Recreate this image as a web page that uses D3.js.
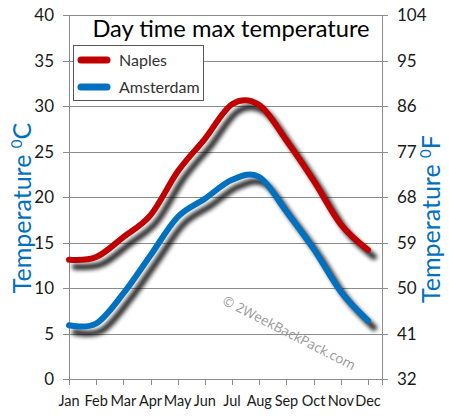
<!DOCTYPE html>
<html><head><meta charset="utf-8">
<script src="https://cdn.jsdelivr.net/npm/d3@7"></script>
<style>body{margin:0;background:#fff;} svg{display:block;}</style>
</head><body>
<svg id="c" width="449" height="420"></svg>
<script>
const months = ["Jan","Feb","Mar","Apr","May","Jun","Jul","Aug","Sep","Oct","Nov","Dec"];
const naples = [13.1, 13.4, 15.6, 18.0, 22.8, 26.4, 30.2, 30.1, 26.2, 21.8, 17.0, 14.2];
const amsterdam = [5.9, 6.1, 9.4, 13.6, 17.8, 19.8, 21.9, 22.2, 18.4, 14.3, 9.6, 6.4];
const celsiusTicks = [0, 5, 10, 15, 20, 25, 30, 35, 40];
const fahrenheitTicks = ["32", "41", "50", "59", "68", "77", "86", "95", "104"];
const seriesNames = ["Naples", "Amsterdam"];
const seriesColors = ["#c00000", "#0070c0"];

const font = "Lato, 'Open Sans', sans-serif";
const svg = d3.select("#c");
const pL = 69, pR = 382, pT = 15, pB = 379;

const x = d3.scalePoint().domain(months).range([69, 368]);
const y = d3.scaleLinear().domain([0, 40]).range([pB, pT]);

const defs = svg.append("defs");
const f = defs.append("filter").attr("id", "sh").attr("x", "-10%").attr("y", "-10%").attr("width", "130%").attr("height", "130%");
f.append("feGaussianBlur").attr("in", "SourceAlpha").attr("stdDeviation", 2.2).attr("result", "b");
f.append("feOffset").attr("in", "b").attr("dx", 6).attr("dy", 7).attr("result", "o");
f.append("feComponentTransfer").attr("in", "o").append("feFuncA").attr("type", "linear").attr("slope", 0.85);

// gridlines
svg.append("g").selectAll("line").data(celsiusTicks).join("line")
  .attr("x1", pL - 6).attr("x2", pR + 6)
  .attr("y1", d => Math.round(y(d)) + 0.5).attr("y2", d => Math.round(y(d)) + 0.5)
  .attr("stroke", "#8c8c8c").attr("stroke-width", 1);

// vertical axis lines
svg.append("line").attr("x1", pL + 0.5).attr("x2", pL + 0.5).attr("y1", pT).attr("y2", pB + 6).attr("stroke", "#8c8c8c");
svg.append("line").attr("x1", pR + 0.5).attr("x2", pR + 0.5).attr("y1", pT).attr("y2", pB + 6).attr("stroke", "#8c8c8c");

// x ticks
svg.append("g").selectAll("line").data(months).join("line")
  .attr("x1", d => Math.round(x(d)) + 0.5).attr("x2", d => Math.round(x(d)) + 0.5)
  .attr("y1", pB).attr("y2", pB + 6)
  .attr("stroke", "#8c8c8c");

// left tick labels
svg.append("g").selectAll("text").data(celsiusTicks).join("text")
  .attr("x", 54).attr("y", d => y(d) + 6)
  .attr("text-anchor", "end").attr("font-family", font).attr("font-size", 17)
  .attr("fill", "#1a1a1a").text(d => d);

// right tick labels
svg.append("g").selectAll("text").data(fahrenheitTicks).join("text")
  .attr("x", 397).attr("y", (d, i) => y(celsiusTicks[i]) + 6)
  .attr("text-anchor", "start").attr("font-family", font).attr("font-size", 17)
  .attr("fill", "#1a1a1a").text(d => d);

// x labels
svg.append("g").selectAll("text").data(months).join("text")
  .attr("x", d => x(d)).attr("y", 406)
  .attr("text-anchor", "middle").attr("font-family", font).attr("font-size", 14.5)
  .attr("fill", "#1a1a1a").text(d => d);

// watermark
svg.append("text").attr("transform", "translate(287,337) rotate(27)")
  .attr("text-anchor", "middle").attr("font-family", "'Open Sans', sans-serif").attr("font-size", 13.5)
  .attr("fill", "#999").text("© 2WeekBackPack.com");

// lines
const line = d3.line().x((d, i) => x(months[i])).y(d => y(d)).curve(d3.curveCardinal.tension(0));
const series = [naples, amsterdam];
series.forEach((s, k) => {
  svg.append("path").datum(s).attr("d", line).attr("fill", "none")
    .attr("stroke", "#000").attr("stroke-width", 6).attr("stroke-linecap", "round")
    .attr("filter", "url(#sh)");
  svg.append("path").datum(s).attr("d", line).attr("fill", "none")
    .attr("stroke", seriesColors[k]).attr("stroke-width", 6).attr("stroke-linecap", "round");
});

// title
svg.append("text").attr("x", 231).attr("y", 37).attr("text-anchor", "middle")
  .attr("font-family", font).attr("font-size", 23.7).attr("fill", "#000")
  .text("Day time max temperature");

// legend
svg.append("rect").attr("x", 73.5).attr("y", 45.5).attr("width", 130).attr("height", 55)
  .attr("fill", "#fff").attr("stroke", "#555");
seriesNames.forEach((n, k) => {
  const ly = 60 + k * 27;
  svg.append("line").attr("x1", 81).attr("x2", 107).attr("y1", ly).attr("y2", ly)
    .attr("stroke", seriesColors[k]).attr("stroke-width", 7).attr("stroke-linecap", "round");
  svg.append("text").attr("x", 119).attr("y", ly + 6).attr("font-family", font).attr("font-size", 16)
    .attr("fill", "#333").text(n);
});

// axis titles
function axisTitle(cx, cy, unit) {
  const t = svg.append("text").attr("transform", `translate(${cx},${cy}) rotate(-90)`)
    .attr("text-anchor", "middle").attr("font-family", font).attr("font-size", 25).attr("fill", "#0070c0");
  t.append("tspan").text("Temperature ");
  t.append("tspan").attr("font-size", 15).attr("dy", -9).text("0");
  t.append("tspan").attr("dy", 9).text(unit);
}
axisTitle(31, 208, "C");
axisTitle(440, 219, "F");
</script>
</body></html>
